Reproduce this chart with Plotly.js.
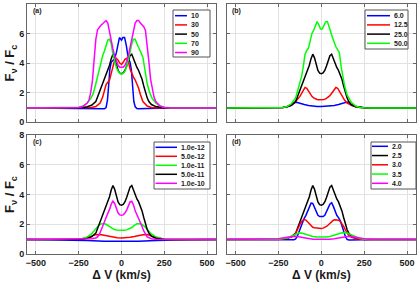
<!DOCTYPE html>
<html><head><meta charset="utf-8">
<script src="https://cdn.plot.ly/plotly-3.0.1.min.js"></script>
<style>html,body{margin:0;padding:0;background:#fff;}#chart{width:418px;height:283px;}</style>
</head><body><div id="chart"></div>
<script>
// ---------- DATA ----------
// Panel (a)
const a10V = [-552,-300,-150,-100,-90,-82,-75,-68,-60,-50,-40,-30,-20,-12,0,8,18,28,40,50,58,65,72,80,90,100,150,300,552];
const a10F = [0.97,0.96,0.94,0.91,1.0,1.5,2.5,3.6,4.05,4.15,4.3,4.7,5.4,5.72,5.55,5.72,5.72,5.2,4.3,4.05,3.5,2.3,1.4,1.05,0.93,0.91,0.94,0.96,0.97];
const a30V = [-552,-300,-200,-175,-150,-125,-110,-100,-90,-80,-70,-60,-50,-40,-30,-20,-10,0,10,20,30,40,50,60,70,80,90,100,110,125,150,175,200,300,552];
const a30F = [0.97,0.97,0.98,1.0,1.06,1.3,1.7,2.2,2.55,2.7,2.85,3.3,3.85,4.2,4.32,4.2,4.0,3.9,4.05,4.25,4.32,4.1,3.6,3.25,3.05,2.85,2.6,2.3,1.9,1.4,1.1,1.0,0.98,0.97,0.97];
// reference profile (black) shared by all four panels
const blkV = [-552,-300,-250,-225,-200,-175,-150,-140,-130,-120,-110,-100,-90,-80,-70,-60,-50,-40,-30,-20,-10,0,10,20,30,40,50,60,70,80,90,100,110,120,130,140,150,160,175,200,225,250,300,552];
const blkF = [0.97,0.97,0.98,1.0,1.05,1.15,1.4,1.7,2.05,2.4,2.7,2.95,3.2,3.5,3.85,4.3,4.6,4.35,3.85,3.5,3.32,3.28,3.33,3.5,3.8,4.2,4.5,4.6,4.3,3.95,3.7,3.5,3.25,2.9,2.45,2.0,1.65,1.4,1.2,1.06,1.0,0.98,0.97,0.97];
const a70V = [-552,-300,-275,-250,-225,-200,-180,-165,-150,-140,-125,-110,-100,-90,-80,-70,-60,-50,-40,-30,-20,-10,0,10,20,30,40,50,60,70,80,90,100,110,125,140,150,165,180,200,225,250,275,300,552];
const a70F = [0.97,0.97,0.98,1.02,1.1,1.3,1.6,1.95,2.6,3.1,3.9,4.5,4.8,5.2,5.55,5.6,5.3,4.6,4.1,3.7,3.45,3.3,3.25,3.3,3.45,3.75,4.2,4.8,5.3,5.6,5.6,5.3,5.0,4.8,4.4,3.2,2.6,2.0,1.6,1.3,1.1,1.02,0.98,0.97,0.97];
const a90V = [-552,-300,-275,-250,-225,-200,-190,-180,-170,-160,-150,-140,-130,-120,-110,-100,-90,-80,-70,-60,-50,-40,-30,-20,-10,0,10,20,30,40,50,60,70,80,90,100,110,120,130,140,150,160,170,180,190,200,225,250,275,300,552];
const a90F = [0.97,0.97,0.98,1.0,1.07,1.3,1.5,2.0,2.8,4.2,5.6,6.25,6.45,6.55,6.65,6.8,6.87,6.7,6.05,5.5,4.95,4.5,4.1,3.85,3.72,3.7,3.72,3.85,4.1,4.5,5.0,5.6,6.2,6.7,6.87,6.87,6.7,6.6,6.45,6.2,5.3,4.1,2.9,2.2,1.7,1.4,1.1,1.0,0.98,0.97,0.97];
// Panel (b)
const b6V = [-552,-300,-250,-225,-200,-175,-160,-150,-140,-125,-100,-75,-50,-25,0,25,50,75,100,125,140,150,160,175,200,225,250,300,552];
const b6F = [0.97,0.97,0.98,1.0,1.05,1.15,1.28,1.36,1.34,1.28,1.2,1.14,1.09,1.07,1.06,1.07,1.09,1.14,1.2,1.28,1.34,1.36,1.28,1.15,1.05,1.0,0.98,0.97,0.97];
const b12V = [-552,-300,-250,-225,-200,-175,-150,-135,-125,-115,-105,-95,-85,-75,-65,-55,-45,-35,-25,-15,-5,5,15,25,35,45,55,65,75,85,95,105,115,125,135,150,175,200,225,250,300,552];
const b12F = [0.97,0.97,0.98,1.0,1.07,1.2,1.4,1.6,1.75,1.95,2.15,2.35,2.3,2.1,1.9,1.75,1.65,1.58,1.54,1.52,1.52,1.52,1.54,1.58,1.65,1.75,1.88,2.05,2.25,2.35,2.3,2.1,1.9,1.7,1.5,1.3,1.15,1.05,1.0,0.98,0.97,0.97];
const b50V = [-552,-300,-250,-225,-200,-175,-150,-135,-125,-115,-105,-95,-85,-75,-65,-55,-45,-35,-25,-15,-5,5,15,25,35,45,55,65,75,85,95,105,115,125,135,150,175,200,225,250,300,552];
const b50F = [0.97,0.97,0.98,1.0,1.07,1.25,1.65,2.2,2.6,3.1,3.8,4.6,4.85,5.0,5.5,6.0,6.2,6.5,6.8,6.6,6.3,6.3,6.55,6.78,6.8,6.5,6.1,5.7,5.35,5.1,4.9,4.7,3.8,3.0,2.5,1.85,1.35,1.1,1.0,0.98,0.97,0.97];
// Panel (c)
const c1V = [-552,-400,-300,-200,-100,0,100,200,300,400,552];
const c1F = [0.97,0.96,0.94,0.9,0.85,0.83,0.85,0.9,0.94,0.96,0.97];
const c5V = [-552,-300,-250,-200,-175,-150,-125,-100,-75,-50,-25,0,25,50,75,100,125,150,175,200,250,300,552];
const c5F = [0.97,0.97,0.99,1.1,1.2,1.3,1.31,1.25,1.18,1.12,1.09,1.08,1.09,1.12,1.17,1.24,1.3,1.31,1.22,1.12,1.0,0.97,0.97];
const c10V = [-552,-300,-250,-225,-200,-175,-150,-135,-120,-105,-90,-75,-60,-45,-30,-15,0,15,30,45,60,75,90,105,120,135,150,175,200,225,250,300,552];
const c10F = [0.97,0.97,1.0,1.04,1.15,1.35,1.7,1.9,2.02,2.05,2.0,1.88,1.75,1.66,1.61,1.59,1.58,1.59,1.62,1.68,1.78,1.92,2.03,2.03,1.98,1.85,1.65,1.35,1.15,1.05,1.0,0.97,0.97];
const c100V = [-552,-300,-250,-200,-175,-150,-140,-130,-120,-110,-100,-90,-80,-70,-60,-50,-40,-30,-20,-10,0,10,20,30,40,50,60,70,80,90,100,110,120,130,140,150,175,200,250,300,552];
const c100F = [0.97,0.97,0.97,0.99,1.02,1.08,1.15,1.3,1.55,1.85,2.15,2.45,2.7,3.0,3.35,3.55,3.4,3.0,2.75,2.63,2.6,2.63,2.75,2.95,3.25,3.5,3.55,3.3,2.9,2.65,2.45,2.15,1.85,1.55,1.3,1.15,1.03,0.99,0.97,0.97,0.97];
// Panel (d)
const d20V = [-552,-300,-250,-200,-175,-160,-150,-140,-130,-120,-110,-100,-90,-80,-70,-60,-50,-40,-30,-20,-10,0,10,20,30,40,50,60,70,80,90,100,110,120,130,140,150,160,175,200,250,300,552];
const d20F = [0.97,0.97,0.96,0.95,0.94,0.95,1.02,1.2,1.5,1.85,2.15,2.4,2.6,2.85,3.15,3.42,3.4,3.1,2.8,2.6,2.52,2.5,2.52,2.6,2.8,3.1,3.35,3.45,3.2,2.85,2.6,2.45,2.25,1.9,1.5,1.18,0.98,0.94,0.94,0.95,0.96,0.97,0.97];
const d30V = [-552,-300,-250,-200,-175,-160,-150,-140,-130,-120,-110,-100,-90,-80,-70,-60,-50,-40,-30,-20,-10,0,10,20,30,40,50,60,70,80,90,100,110,120,130,140,150,160,175,200,250,300,552];
const d30F = [0.97,0.97,0.98,1.05,1.12,1.2,1.38,1.65,1.9,2.1,2.25,2.32,2.28,2.15,2.0,1.88,1.8,1.76,1.74,1.73,1.72,1.72,1.74,1.78,1.85,1.95,2.05,2.18,2.27,2.3,2.3,2.27,2.2,2.06,1.85,1.62,1.4,1.25,1.12,1.04,0.98,0.97,0.97];
const d35V = [-552,-300,-250,-200,-175,-150,-130,-110,-90,-70,-50,-25,0,25,50,75,100,125,150,175,200,225,250,300,552];
const d35F = [0.97,0.97,0.99,1.08,1.2,1.35,1.42,1.4,1.32,1.24,1.18,1.14,1.12,1.14,1.18,1.26,1.36,1.45,1.42,1.28,1.13,1.04,0.99,0.97,0.97];
const d40V = [-552,-350,-300,-250,-200,-175,-160,-150,-125,-100,-75,-50,-25,0,25,50,75,100,125,150,160,175,200,250,300,350,552];
const d40F = [0.97,0.97,0.98,1.02,1.12,1.18,1.2,1.19,1.14,1.08,1.03,1.0,0.99,0.98,0.99,1.0,1.03,1.08,1.14,1.19,1.2,1.18,1.12,1.02,0.98,0.97,0.97];

// legend labels and colours
const labelsA = ['10','30','50','70','90'];
const labelsB = ['6.0','12.5','25.0','50.0'];
const labelsC = ['1.0e-12','5.0e-12','1.0e-11','5.0e-11','1.0e-10'];
const labelsD = ['2.0','2.5','3.0','3.5','4.0'];
const BLUE='#0000ff', RED='#ff0000', BLACK='#000000', GREEN='#00ff00', MAG='#ff00ff';
const colorsA = [BLUE,RED,BLACK,GREEN,MAG];
const colorsB = [BLUE,RED,BLACK,GREEN];
const colorsC = [BLUE,RED,GREEN,BLACK,MAG];
const colorsD = [BLUE,BLACK,RED,GREEN,MAG];
const seriesA = [[a10V,a10F],[a30V,a30F],[blkV,blkF],[a70V,a70F],[a90V,a90F]];
const seriesB = [[b6V,b6F],[b12V,b12F],[blkV,blkF],[b50V,b50F]];
const seriesC = [[c1V,c1F],[c5V,c5F],[c10V,c10F],[blkV,blkF],[c100V,c100F]];
const seriesD = [[d20V,d20F],[blkV,blkF],[d30V,d30F],[d35V,d35F],[d40V,d40F]];

// ---------- BUILD ----------
const W=418, H=283;
const px=v=>v/W, py=v=>1-v/H;
const FONT='Liberation Sans, Arial, Helvetica, sans-serif';
const traces=[];
function addSeries(series, colors, labels, ax){
  series.forEach((s,i)=>traces.push({x:s[0], y:s[1], xaxis:'x'+ax, yaxis:'y'+ax, type:'scatter', mode:'lines',
    name:labels[i], showlegend:false, line:{color:colors[i], width:1.5}, hoverinfo:'skip'}));
}
addSeries(seriesA, colorsA, labelsA, '');
addSeries(seriesB, colorsB, labelsB, '2');
addSeries(seriesC, colorsC, labelsC, '3');
addSeries(seriesD, colorsD, labelsD, '4');

const tickFont={family:FONT, size:9, weight:'bold', color:'#1a1a1a'};
function xax(dom, anchor, showLabels, title){
  const o={domain:dom, anchor:anchor, range:[-552,552], tickvals:[-500,-250,0,250,500],
    showticklabels:showLabels, showgrid:true, gridcolor:'#e2e2e2', gridwidth:1, zeroline:false,
    showline:true, linecolor:'#666', linewidth:1, mirror:'ticks', ticks:'inside', ticklen:3, tickcolor:'#666',
    tickfont:tickFont, fixedrange:true};
  if(title) o.title={text:title, font:{family:FONT, size:12, weight:'bold', color:'#1a1a1a'}, standoff:1};
  return o;
}
function yax(dom, anchor, showLabels, title){
  const o={domain:dom, anchor:anchor, range:[0,8], tickvals:[0,2,4,6,8],
    showticklabels:showLabels, showgrid:true, gridcolor:'#e2e2e2', gridwidth:1, zeroline:false,
    showline:true, linecolor:'#666', linewidth:1, mirror:'ticks', ticks:'inside', ticklen:3, tickcolor:'#666',
    tickfont:tickFont, fixedrange:true};
  if(title) o.title={text:title, font:{family:FONT, size:13, weight:'bold', color:'#1a1a1a'}, standoff:1};
  return o;
}
const xL=[px(27),px(216)], xR=[px(226.7),px(416)];
const yT=[py(122.3),py(3.8)], yB=[py(254),py(135)];
const ytitle='F<sub>ν</sub> / F<sub>c</sub>';
const xtitle='Δ V (km/s)';

const shapes=[], annotations=[];
function legend(labels, colors, box, lx0, lx1, tx, y0, pitch){
  shapes.push({type:'rect', xref:'paper', yref:'paper', x0:px(box[0]), x1:px(box[2]), y0:py(box[3]), y1:py(box[1]),
    line:{color:'#555', width:1}, fillcolor:'#fff', layer:'above'});
  labels.forEach((lab,i)=>{
    const yy=y0+i*pitch;
    shapes.push({type:'line', xref:'paper', yref:'paper', x0:px(lx0), x1:px(lx1), y0:py(yy), y1:py(yy),
      line:{color:colors[i], width:1.5}, layer:'above'});
    annotations.push({xref:'paper', yref:'paper', x:px(tx), y:py(yy), xanchor:'left', yanchor:'middle',
      text:lab, showarrow:false, font:{family:FONT, size:7, weight:'bold', color:'#1a1a1a'}});
  });
}
legend(labelsA, colorsA, [173,10,210,57], 175, 187, 189, 15.7, 9.2);
legend(labelsB, colorsB, [365,10,408,49], 367, 390, 391.5, 15.7, 9.2);
legend(labelsC, colorsC, [154,142,210,189], 155.5, 177, 178.5, 147.3, 9.0);
legend(labelsD, colorsD, [371,142,416,189], 372, 388, 389.5, 146.3, 9.25);

[['(a)',31,10.5],['(b)',230,10.5],['(c)',31,141.5],['(d)',230,141.5]].forEach(p=>{
  annotations.push({xref:'paper', yref:'paper', x:px(p[1]), y:py(p[2]), xanchor:'left', yanchor:'middle',
    text:p[0], showarrow:false, font:{family:FONT, size:7, weight:'bold', color:'#1a1a1a'}});
});

const layout={
  width:W, height:H, margin:{l:0,r:0,t:0,b:0}, paper_bgcolor:'#fff', plot_bgcolor:'#fff',
  showlegend:false,
  xaxis: xax(xL,'y',false), yaxis: yax(yT,'x',true,ytitle),
  xaxis2: xax(xR,'y2',false), yaxis2: yax(yT,'x2',false),
  xaxis3: xax(xL,'y3',true,xtitle), yaxis3: yax(yB,'x3',true,ytitle),
  xaxis4: xax(xR,'y4',true,xtitle), yaxis4: yax(yB,'x4',false),
  shapes:shapes, annotations:annotations
};
Plotly.newPlot('chart', traces, layout, {staticPlot:true, displayModeBar:false});
</script>
</body></html>
